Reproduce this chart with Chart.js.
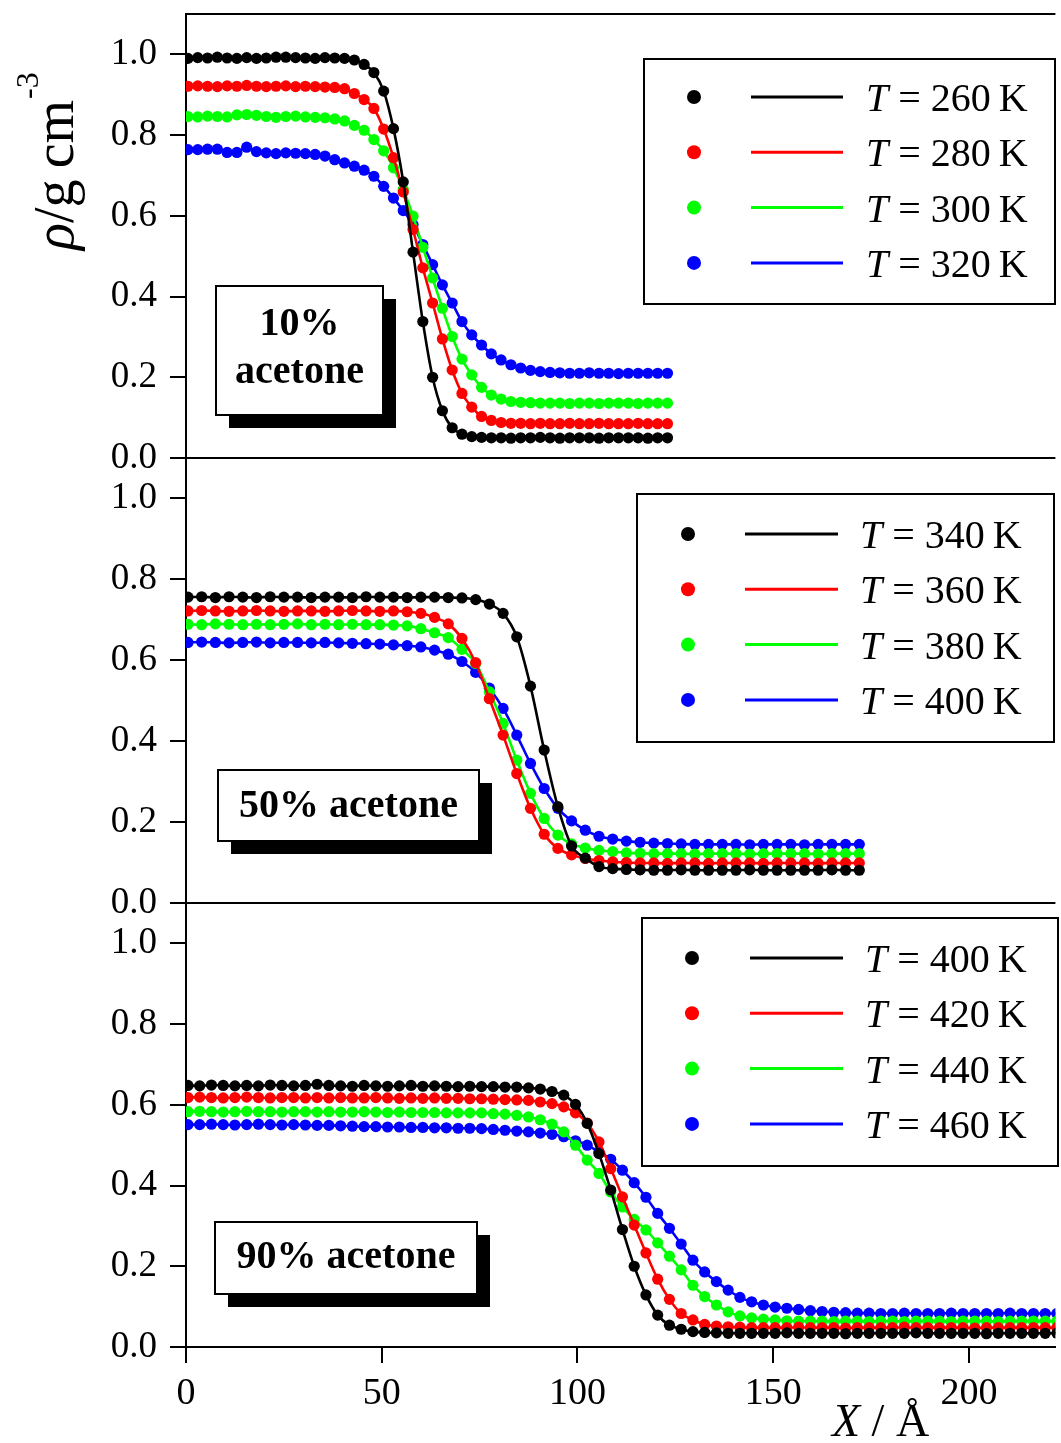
<!DOCTYPE html>
<html>
<head>
<meta charset="utf-8">
<script src="https://cdn.jsdelivr.net/npm/chart.js@4/dist/chart.umd.min.js"></script>
<style>
  body { margin: 0; background: #fff; width: 1061px; height: 1443px; position: relative; overflow: hidden; }
  canvas { position: absolute; left: 0; }
</style>
</head>
<body>
<canvas id="panel10" width="1061" height="500" style="top:0px"></canvas>
<canvas id="panel50" width="1061" height="500" style="top:440px"></canvas>
<canvas id="panel90" width="1061" height="563" style="top:880px"></canvas>
<script>
// Density profiles across the liquid/vapour interface, three acetone fractions

const FONT = "'Liberation Serif', 'Times New Roman', serif";

// sampling grid along X (Å): first bin and spacing for each panel
const x0 = 0.5;
const step10 = 2.5;
const step50 = 3.5;
const step90 = 3.0;

const xTicks = [0, 50, 100, 150, 200];
const yTicks = [0, 0.2, 0.4, 0.6, 0.8, 1.0];
const colors = ["#000000", "#ff0000", "#00ff00", "#0000ff"];

// ── 10% acetone ───────────────────────────────────────────
const temps10 = [260, 280, 300, 320];
const label10 = ["10%", "acetone"];
const rho10_260 = [
  0.990, 0.992, 0.991, 0.993, 0.991, 0.990, 0.992, 0.990, 0.991, 0.993,
  0.993, 0.992, 0.991, 0.990, 0.992, 0.991, 0.990, 0.986, 0.975, 0.955,
  0.909, 0.816, 0.684, 0.510, 0.338, 0.200, 0.117, 0.075, 0.059, 0.053,
  0.051, 0.050, 0.050, 0.049, 0.050, 0.050, 0.051, 0.050, 0.049, 0.050,
  0.050, 0.050, 0.049, 0.050, 0.050, 0.050, 0.050, 0.049, 0.050, 0.050];
const rho10_280 = [
  0.921, 0.922, 0.921, 0.920, 0.922, 0.921, 0.923, 0.921, 0.920, 0.921,
  0.922, 0.920, 0.921, 0.920, 0.919, 0.918, 0.915, 0.903, 0.888, 0.866,
  0.815, 0.744, 0.659, 0.566, 0.471, 0.384, 0.295, 0.218, 0.160, 0.126,
  0.103, 0.093, 0.088, 0.086, 0.086, 0.085, 0.086, 0.085, 0.085, 0.086,
  0.085, 0.085, 0.086, 0.085, 0.085, 0.085, 0.086, 0.085, 0.085, 0.085];
const rho10_300 = [
  0.846, 0.845, 0.847, 0.846, 0.845, 0.850, 0.851, 0.849, 0.846, 0.844,
  0.846, 0.847, 0.845, 0.844, 0.843, 0.840, 0.835, 0.824, 0.812, 0.789,
  0.761, 0.719, 0.665, 0.599, 0.522, 0.446, 0.371, 0.301, 0.245, 0.206,
  0.175, 0.156, 0.146, 0.140, 0.138, 0.137, 0.136, 0.136, 0.136, 0.135,
  0.136, 0.136, 0.135, 0.136, 0.136, 0.136, 0.135, 0.136, 0.136, 0.136];
const rho10_320 = [
  0.764, 0.764, 0.765, 0.765, 0.757, 0.757, 0.770, 0.759, 0.756, 0.754,
  0.756, 0.755, 0.754, 0.752, 0.748, 0.739, 0.731, 0.723, 0.713, 0.698,
  0.673, 0.644, 0.613, 0.578, 0.529, 0.479, 0.429, 0.384, 0.338, 0.305,
  0.280, 0.258, 0.243, 0.231, 0.223, 0.217, 0.214, 0.212, 0.211, 0.210,
  0.210, 0.211, 0.210, 0.210, 0.209, 0.210, 0.210, 0.210, 0.210, 0.210];

// ── 50% acetone ───────────────────────────────────────────
const temps50 = [340, 360, 380, 400];
const label50 = ["50% acetone"];
const rho50_340 = [
  0.756, 0.757, 0.755, 0.757, 0.756, 0.755, 0.757, 0.756, 0.756, 0.755,
  0.756, 0.756, 0.755, 0.757, 0.756, 0.756, 0.755, 0.756, 0.756, 0.755,
  0.754, 0.750, 0.739, 0.716, 0.658, 0.536, 0.378, 0.238, 0.141, 0.111,
  0.090, 0.085, 0.083, 0.082, 0.081, 0.081, 0.082, 0.081, 0.081, 0.081,
  0.081, 0.082, 0.081, 0.081, 0.081, 0.081, 0.081, 0.082, 0.081, 0.081];
const rho50_360 = [
  0.722, 0.723, 0.722, 0.721, 0.722, 0.723, 0.722, 0.721, 0.722, 0.722,
  0.721, 0.722, 0.723, 0.722, 0.721, 0.722, 0.720, 0.716, 0.706, 0.690,
  0.654, 0.594, 0.505, 0.415, 0.320, 0.234, 0.170, 0.135, 0.119, 0.110,
  0.105, 0.102, 0.100, 0.099, 0.099, 0.098, 0.099, 0.099, 0.098, 0.099,
  0.099, 0.099, 0.098, 0.099, 0.099, 0.099, 0.098, 0.099, 0.099, 0.099];
const rho50_380 = [
  0.689, 0.688, 0.690, 0.689, 0.688, 0.689, 0.688, 0.689, 0.690, 0.688,
  0.689, 0.688, 0.689, 0.688, 0.688, 0.687, 0.685, 0.678, 0.668, 0.656,
  0.627, 0.592, 0.522, 0.444, 0.353, 0.271, 0.209, 0.168, 0.146, 0.136,
  0.130, 0.127, 0.124, 0.123, 0.122, 0.122, 0.122, 0.121, 0.122, 0.122,
  0.122, 0.121, 0.122, 0.122, 0.122, 0.122, 0.121, 0.122, 0.122, 0.122];
const rho50_400 = [
  0.644, 0.645, 0.644, 0.643, 0.644, 0.645, 0.643, 0.644, 0.644, 0.643,
  0.644, 0.643, 0.642, 0.641, 0.640, 0.638, 0.636, 0.633, 0.625, 0.615,
  0.597, 0.570, 0.531, 0.481, 0.415, 0.345, 0.283, 0.234, 0.203, 0.180,
  0.165, 0.158, 0.153, 0.150, 0.148, 0.147, 0.146, 0.145, 0.145, 0.145,
  0.145, 0.144, 0.145, 0.145, 0.145, 0.144, 0.145, 0.145, 0.145, 0.145];

// ── 90% acetone ───────────────────────────────────────────
const temps90 = [400, 420, 440, 460];
const label90 = ["90% acetone"];
const rho90_400 = [
  0.648, 0.647, 0.649, 0.648, 0.647, 0.648, 0.647, 0.649, 0.648, 0.647,
  0.648, 0.651, 0.648, 0.647, 0.646, 0.648, 0.647, 0.646, 0.647, 0.648,
  0.646, 0.647, 0.646, 0.645, 0.646, 0.645, 0.645, 0.644, 0.644, 0.642,
  0.639, 0.633, 0.624, 0.601, 0.554, 0.479, 0.389, 0.291, 0.200, 0.129,
  0.079, 0.054, 0.044, 0.038, 0.036, 0.035, 0.034, 0.034, 0.034, 0.034,
  0.034, 0.035, 0.034, 0.034, 0.034, 0.034, 0.033, 0.034, 0.034, 0.034,
  0.034, 0.034, 0.035, 0.034, 0.034, 0.034, 0.034, 0.034, 0.033, 0.034,
  0.034, 0.034, 0.034, 0.034, 0.034];
const rho90_420 = [
  0.618, 0.619, 0.618, 0.617, 0.618, 0.619, 0.618, 0.617, 0.618, 0.618,
  0.617, 0.618, 0.617, 0.618, 0.617, 0.617, 0.618, 0.617, 0.616, 0.617,
  0.616, 0.617, 0.616, 0.616, 0.615, 0.615, 0.614, 0.613, 0.612, 0.611,
  0.607, 0.603, 0.595, 0.580, 0.555, 0.508, 0.442, 0.372, 0.302, 0.233,
  0.168, 0.118, 0.083, 0.067, 0.056, 0.052, 0.050, 0.049, 0.048, 0.048,
  0.048, 0.048, 0.049, 0.048, 0.048, 0.048, 0.047, 0.048, 0.048, 0.048,
  0.048, 0.049, 0.048, 0.048, 0.048, 0.048, 0.048, 0.047, 0.048, 0.048,
  0.048, 0.048, 0.048, 0.048, 0.048];
const rho90_440 = [
  0.583, 0.584, 0.583, 0.582, 0.583, 0.584, 0.583, 0.583, 0.582, 0.583,
  0.583, 0.582, 0.583, 0.582, 0.582, 0.583, 0.582, 0.581, 0.582, 0.581,
  0.581, 0.581, 0.580, 0.580, 0.580, 0.580, 0.578, 0.577, 0.574, 0.570,
  0.563, 0.552, 0.533, 0.500, 0.463, 0.430, 0.384, 0.347, 0.316, 0.290,
  0.258, 0.225, 0.191, 0.153, 0.125, 0.104, 0.087, 0.077, 0.072, 0.069,
  0.067, 0.065, 0.064, 0.064, 0.064, 0.063, 0.064, 0.064, 0.063, 0.064,
  0.064, 0.063, 0.064, 0.064, 0.064, 0.063, 0.064, 0.064, 0.064, 0.063,
  0.064, 0.064, 0.064, 0.064, 0.064];
const rho90_460 = [
  0.551, 0.551, 0.552, 0.551, 0.550, 0.551, 0.552, 0.551, 0.550, 0.551,
  0.550, 0.549, 0.549, 0.548, 0.547, 0.546, 0.546, 0.545, 0.545, 0.544,
  0.544, 0.543, 0.543, 0.542, 0.542, 0.541, 0.539, 0.537, 0.535, 0.533,
  0.530, 0.527, 0.521, 0.511, 0.500, 0.483, 0.465, 0.438, 0.407, 0.371,
  0.331, 0.294, 0.255, 0.215, 0.186, 0.162, 0.141, 0.123, 0.112, 0.104,
  0.099, 0.096, 0.093, 0.090, 0.088, 0.086, 0.085, 0.084, 0.084, 0.083,
  0.083, 0.084, 0.083, 0.083, 0.083, 0.084, 0.083, 0.083, 0.083, 0.083,
  0.084, 0.083, 0.083, 0.083, 0.083];

// ── helpers ───────────────────────────────────────────────
function makeDatasets(series, temps, step) {
  return series.map((values, k) => ({
    label: "T = " + temps[k] + " K",
    data: values.map((v, i) => ({ x: x0 + i * step, y: v })),
    showLine: true,
    borderColor: colors[k],
    backgroundColor: colors[k],
    borderWidth: 2.6,
    pointRadius: 5.6,
    pointBorderWidth: 0,
    cubicInterpolationMode: "monotone",
  }));
}

// top/bottom frame lines of a panel
function framePlugin(drawTop) {
  return {
    id: "frame",
    afterDatasetsDraw(chart) {
      const { ctx, chartArea: a } = chart;
      ctx.save();
      ctx.strokeStyle = "#000";
      ctx.lineWidth = 2;
      ctx.beginPath();
      if (drawTop) {
        ctx.moveTo(a.left, a.top);
        ctx.lineTo(a.right, a.top);
      }
      ctx.moveTo(a.left, a.bottom);
      ctx.lineTo(a.right, a.bottom);
      ctx.stroke();
      ctx.restore();
    },
  };
}

// boxed legend: dot, line sample, "T = ... K"
function legendPlugin(box, temps, offsetTop) {
  return {
    id: "tempLegend",
    afterDatasetsDraw(chart) {
      const ctx = chart.ctx;
      ctx.save();
      ctx.translate(0, -offsetTop);
      ctx.fillStyle = "#fff";
      ctx.fillRect(box.x1, box.y1, box.x2 - box.x1, box.y2 - box.y1);
      ctx.strokeStyle = "#000";
      ctx.lineWidth = 2;
      ctx.strokeRect(box.x1, box.y1, box.x2 - box.x1, box.y2 - box.y1);
      temps.forEach((t, k) => {
        const y = box.row0 + k * box.rowGap;
        ctx.fillStyle = colors[k];
        ctx.beginPath();
        ctx.arc(box.dotX, y, 7, 0, Math.PI * 2);
        ctx.fill();
        ctx.strokeStyle = colors[k];
        ctx.lineWidth = 3;
        ctx.beginPath();
        ctx.moveTo(box.lineX1, y);
        ctx.lineTo(box.lineX2, y);
        ctx.stroke();
        ctx.fillStyle = "#000";
        ctx.textBaseline = "alphabetic";
        let x = box.textX;
        ctx.font = "italic 40px " + FONT;
        ctx.fillText("T", x, y + 14);
        x += ctx.measureText("T").width;
        ctx.font = "40px " + FONT;
        ctx.fillText(" = " + t + "\u2009K", x, y + 14);
      });
      ctx.restore();
    },
  };
}

// composition tag with drop shadow
function tagPlugin(tag, lines, offsetTop) {
  return {
    id: "compTag",
    afterDatasetsDraw(chart) {
      const ctx = chart.ctx;
      const w = tag.x2 - tag.x1, h = tag.y2 - tag.y1;
      ctx.save();
      ctx.translate(0, -offsetTop);
      ctx.fillStyle = "#000";
      ctx.fillRect(tag.x1 + 13, tag.y1 + 13, w, h);
      ctx.fillStyle = "#fff";
      ctx.fillRect(tag.x1, tag.y1, w, h);
      ctx.strokeStyle = "#000";
      ctx.lineWidth = 2;
      ctx.strokeRect(tag.x1, tag.y1, w, h);
      ctx.fillStyle = "#000";
      ctx.font = "bold 40px " + FONT;
      ctx.textAlign = "center";
      ctx.textBaseline = "alphabetic";
      lines.forEach((s, k) => ctx.fillText(s, (tag.x1 + tag.x2) / 2, tag.base0 + k * 48));
      ctx.restore();
    },
  };
}

const yTitlePlugin = {
  id: "yTitle",
  afterDraw(chart) {
    const ctx = chart.ctx;
    ctx.save();
    ctx.translate(73, 250);
    ctx.rotate(-Math.PI / 2);
    ctx.fillStyle = "#000";
    ctx.textBaseline = "alphabetic";
    let x = 0;
    ctx.font = "italic 56px " + FONT;
    ctx.fillText("\u03c1", x, 0);
    x += ctx.measureText("\u03c1").width;
    ctx.font = "56px " + FONT;
    ctx.fillText("/", x, 0);
    x += ctx.measureText("/").width;
    ctx.fillText("g\u2009cm", x, 0);
    x += ctx.measureText("g\u2009cm").width;
    ctx.font = "32px " + FONT;
    ctx.fillText("-3", x + 1, -35);
    ctx.restore();
  },
};

const xTitlePlugin = {
  id: "xTitle",
  afterDraw(chart) {
    const ctx = chart.ctx;
    ctx.save();
    ctx.fillStyle = "#000";
    ctx.textBaseline = "alphabetic";
    let x = 832;
    const y = 1436 - 880;
    ctx.font = "italic 46px " + FONT;
    ctx.fillText("X", x, y);
    x += ctx.measureText("X").width;
    ctx.font = "46px " + FONT;
    ctx.fillText(" / \u00c5", x, y);
    ctx.restore();
  },
};

function axisStyle() {
  return {
    grid: { drawOnChartArea: false, drawTicks: true, tickLength: 16, color: "#000", lineWidth: 2 },
    border: { display: true, color: "#000", width: 2 },
  };
}

function makePanel(id, opts) {
  const showX = !!opts.showX;
  new Chart(document.getElementById(id), {
    type: "scatter",
    data: { datasets: makeDatasets(opts.series, opts.temps, opts.step) },
    options: {
      responsive: false,
      animation: false,
      layout: { padding: { top: opts.padTop, bottom: opts.padBottom, left: 0, right: 0 } },
      plugins: { legend: { display: false }, tooltip: { enabled: false } },
      scales: {
        x: {
          type: "linear",
          min: 0,
          max: 222.1,
          display: showX,
          afterBuildTicks: (s) => { s.ticks = xTicks.map((v) => ({ value: v })); },
          afterFit: (s) => { s.paddingLeft = 0; s.paddingRight = 0; if (showX) s.height = 96; },
          ticks: { color: "#000", padding: 8, font: { family: FONT, size: 38 }, maxRotation: 0, autoSkip: false },
          ...axisStyle(),
        },
        y: {
          min: 0,
          max: 1.1,
          afterBuildTicks: (s) => { s.ticks = yTicks.map((v) => ({ value: v })); },
          afterFit: (s) => { s.width = 186; s.paddingTop = 0; s.paddingBottom = 0; },
          ticks: { color: "#000", padding: 13, autoSkip: false, font: { family: FONT, size: 37 },
                   callback: (v) => v.toFixed(1) },
          ...axisStyle(),
        },
      },
    },
    plugins: opts.plugins,
  });
}

// ── panels ────────────────────────────────────────────────
makePanel("panel10", {
  series: [rho10_260, rho10_280, rho10_300, rho10_320],
  temps: temps10,
  step: step10,
  padTop: 14,
  padBottom: 42,
  plugins: [
    framePlugin(true),
    legendPlugin({ x1: 644, y1: 59, x2: 1055, y2: 304, dotX: 694, lineX1: 751, lineX2: 843,
                   textX: 866, row0: 97, rowGap: 55.3 }, temps10, 0),
    tagPlugin({ x1: 216, y1: 286, x2: 383, y2: 415, base0: 335 }, label10, 0),
    yTitlePlugin,
  ],
});

makePanel("panel50", {
  series: [rho50_340, rho50_360, rho50_380, rho50_400],
  temps: temps50,
  step: step50,
  padTop: 18,
  padBottom: 37,
  plugins: [
    framePlugin(false),
    legendPlugin({ x1: 637, y1: 494, x2: 1054, y2: 742, dotX: 688, lineX1: 745, lineX2: 838,
                   textX: 860, row0: 534, rowGap: 55.3 }, temps50, 440),
    tagPlugin({ x1: 218, y1: 770, x2: 479, y2: 841, base0: 817 }, label50, 440),
  ],
});

makePanel("panel90", {
  series: [rho90_400, rho90_420, rho90_440, rho90_460],
  temps: temps90,
  step: step90,
  padTop: 23,
  padBottom: 0,
  showX: true,
  plugins: [
    framePlugin(false),
    legendPlugin({ x1: 642, y1: 918, x2: 1058, y2: 1166, dotX: 692, lineX1: 750, lineX2: 843,
                   textX: 865, row0: 958, rowGap: 55.3 }, temps90, 880),
    tagPlugin({ x1: 215, y1: 1222, x2: 477, y2: 1294, base0: 1268 }, label90, 880),
    xTitlePlugin,
  ],
});
</script>
</body>
</html>
